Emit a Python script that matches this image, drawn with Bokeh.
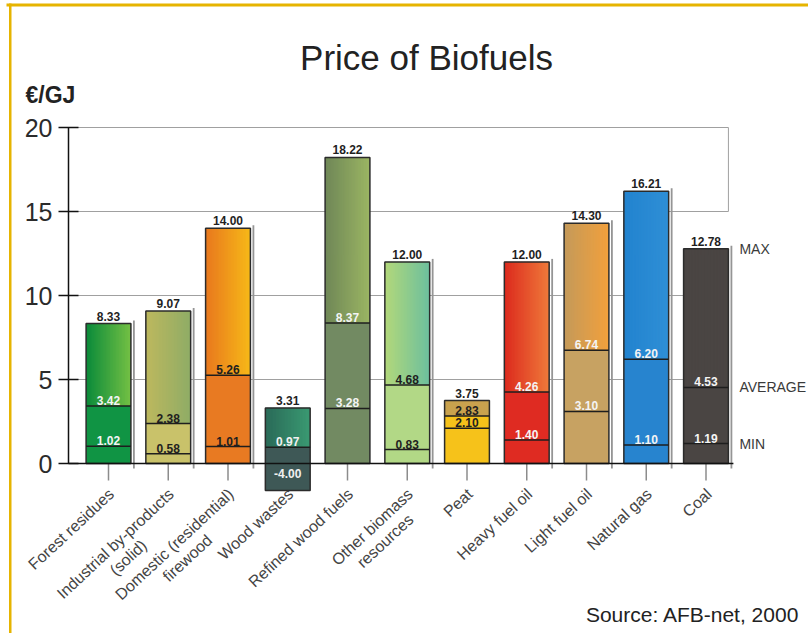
import math
from bokeh.plotting import figure
from bokeh.models import Range1d, ColumnDataSource, Label, FixedTicker, BoxAnnotation
from bokeh.embed import file_html
from bokeh.resources import INLINE
from bokeh.core.properties import value

# ---------------- data ----------------
categories = ["Forest residues", "Industrial by-products\n(solid)",
              "Domestic (residential)\nfirewood", "Wood wastes",
              "Refined wood fuels", "Other biomass\nresources", "Peat",
              "Heavy fuel oil", "Light fuel oil", "Natural gas", "Coal"]
max_vals = [8.33, 9.07, 14.00, 3.31, 18.22, 12.00, 3.75, 12.00, 14.30, 16.21, 12.78]
avg_vals = [3.42, 2.38, 5.26, 0.97, 8.37, 4.68, 2.83, 4.26, 6.74, 6.20, 4.53]
min_vals = [1.02, 0.58, 1.01, -4.00, 3.28, 0.83, 2.10, 1.40, 3.10, 1.10, 1.19]
y_ticks = [0, 5, 10, 15, 20]
row_labels = ["MAX", "AVERAGE", "MIN"]

# ---------------- styles / layout ----------------
upper_left = ["#0a8a3a", "#bdb85e", "#e8781e", "#2a6a58", "#6f8757", "#b3d87a",
              "#c9a24e", "#dc2a1e", "#c49a5a", "#2283cf", "#4a4543"]
upper_right = ["#74c044", "#8fac66", "#f7b918", "#3a9a72", "#9bb563", "#6cbf9e",
               "#c9a24e", "#ef7a3a", "#f2a03c", "#2f8fd6", "#4a4543"]
lower_col = ["#109444", "#c9c26a", "#e87a22", "#3e5856", "#728a62", "#b2d886",
             "#f6c21a", "#df2b22", "#c7a262", "#2784cf", "#4a4543"]
inner_text_col = ["#f4f4f4", "#1f1f1f", "#1f1f1f", "#f0f0f0", "#f4f4f4", "#1f1f1f",
                  "#1f1f1f", "#f4f4f4", "#f4f4f4", "#f4f4f4", "#f4f4f4"]
has_shadow = [True, True, True, False, False, True, False, True, True, True, True]

FONT = "Liberation Sans"
W_PX, H_PX = 808, 633
ZX, ZY = 108, 463          # pixel position of (first category, 0)
PX_X, PX_Y = 59.75, 16.8   # pixels per category / per unit
FLOOR = -1.6               # lowest drawn value (bars are cut off here)
AXIS_PX = 68               # pixel x of the value axis

x0, x1 = -ZX / PX_X, (W_PX - ZX) / PX_X
y0, y1 = -(H_PX - ZY) / PX_Y, ZY / PX_Y
px2x = lambda px: (px - ZX) / PX_X
px2y = lambda py: (ZY - py) / PX_Y

p = figure(width=W_PX, height=H_PX, x_range=Range1d(x0, x1), y_range=Range1d(y0, y1),
           output_backend="svg", toolbar_location=None, x_axis_location=None,
           min_border=0)
p.title.text = ""
p.title.visible = False
p.outline_line_color = None
p.background_fill_color = "white"
p.border_fill_color = "white"
p.xgrid.visible = False
p.ygrid.visible = False

n = len(categories)
xs = list(range(n))
hw = 0.375
axis_x = px2x(AXIS_PX)
right_x = n - 1 + hw

# y axis drawn at a fixed place inside the canvas
p.yaxis.fixed_location = axis_x
p.yaxis.ticker = FixedTicker(ticks=y_ticks)
p.yaxis.bounds = (y_ticks[0], y_ticks[-1])
p.yaxis.axis_line_color = "#111111"
p.yaxis.axis_line_width = 1.5
p.yaxis.major_tick_line_color = "#111111"
p.yaxis.major_tick_line_width = 1.5
p.yaxis.major_tick_in = 10
p.yaxis.major_tick_out = 10
p.yaxis.minor_tick_line_color = None
p.yaxis.major_label_standoff = 6
p.yaxis.major_label_text_font = FONT
p.yaxis.major_label_text_font_size = "25px"
p.yaxis.major_label_text_color = "#2b2b2b"

# grid lines and partial right frame
p.segment(x0=[axis_x] * (len(y_ticks) - 1), x1=[right_x] * (len(y_ticks) - 1),
          y0=y_ticks[1:], y1=y_ticks[1:], line_color="#a0a0a0", line_width=1)
p.segment(x0=[right_x], x1=[right_x], y0=[y_ticks[-2]], y1=[y_ticks[-1]],
          line_color="#a0a0a0", line_width=1)

# shadows
sh_x = [i + hw + 3 / PX_X for i in xs if has_shadow[i]]
sh_t = [max_vals[i] + 3 / PX_Y for i in xs if has_shadow[i]]
p.segment(x0=sh_x, x1=sh_x, y0=sh_t, y1=[-5 / PX_Y] * len(sh_x),
          line_color="#959595", line_width=1.8)

# x tick marks
p.segment(x0=xs, x1=xs, y0=[0] * n, y1=[-17 / PX_Y] * n, line_color="#8c8c8c", line_width=1.5)

base = [max(min(0, m), FLOOR) for m in min_vals]

# lower solid sections
p.quad(left=[i - hw for i in xs], right=[i + hw for i in xs], bottom=base, top=avg_vals,
       fill_color=lower_col, line_color=None)


def hex2rgb(h):
    h = h.lstrip("#")
    return tuple(int(h[k:k + 2], 16) for k in (0, 2, 4))


def mix(a, b, t):
    return "#%02x%02x%02x" % tuple(round(a[k] + (b[k] - a[k]) * t) for k in range(3))


# upper sections: left-to-right colour blend made of overlapping thin strips
NS = 30
step = 2 * hw / NS
ov = 1.2 / PX_X
sl, sr, sb, st, sc = [], [], [], [], []
for i in xs:
    L, R = hex2rgb(upper_left[i]), hex2rgb(upper_right[i])
    for k in range(NS):
        sl.append(i - hw + step * k)
        sr.append(min(i - hw + step * (k + 1) + ov, i + hw))
        sb.append(avg_vals[i])
        st.append(max_vals[i])
        sc.append(mix(L, R, (k + 0.5) / NS))
p.quad(left=sl, right=sr, bottom=sb, top=st, fill_color=sc, line_color=None)

# outlines and level lines
p.quad(left=[i - hw for i in xs], right=[i + hw for i in xs], bottom=base, top=max_vals,
       fill_color=None, line_color="#2b2b2b", line_width=1.5)
lv_i = [i for i in xs if min_vals[i] >= FLOOR]
p.segment(x0=[i - hw for i in xs] + [i - hw for i in lv_i],
          x1=[i + hw for i in xs] + [i + hw for i in lv_i],
          y0=avg_vals + [min_vals[i] for i in lv_i], y1=avg_vals + [min_vals[i] for i in lv_i],
          line_color="#1e1e1e", line_width=1.5)

# zero line
p.segment(x0=[axis_x], x1=[right_x + 5 / PX_X], y0=[0], y1=[0], line_color="#111111",
          line_width=1.5)

# value labels
fmt = lambda v: "%.2f" % v
p.text(x=xs, y=max_vals, text=[fmt(v) for v in max_vals], text_align="center",
       text_baseline="bottom", y_offset=-3, text_font=value(FONT),
       text_font_size=value("12px"), text_font_style="bold", text_color="#1f1f1f")
p.text(x=xs, y=avg_vals, text=[fmt(v) for v in avg_vals], text_align="center",
       text_baseline="bottom", y_offset=-1, text_font=value(FONT),
       text_font_size=value("12px"), text_font_style="bold", text_color=inner_text_col)
pos_i = [i for i in xs if min_vals[i] >= 0]
neg_i = [i for i in xs if min_vals[i] < 0]
p.text(x=pos_i, y=[min_vals[i] for i in pos_i], text=[fmt(min_vals[i]) for i in pos_i],
       text_align="center", text_baseline="bottom", y_offset=-1, text_font=value(FONT),
       text_font_size=value("12px"), text_font_style="bold",
       text_color=[inner_text_col[i] for i in pos_i])
p.text(x=neg_i, y=[0] * len(neg_i), text=[fmt(min_vals[i]) for i in neg_i],
       text_align="center", text_baseline="top", y_offset=5, text_font=value(FONT),
       text_font_size=value("12px"), text_font_style="bold",
       text_color=[inner_text_col[i] for i in neg_i])

# MAX / AVERAGE / MIN row labels next to the last bar
last = n - 1
p.text(x=[right_x + 11 / PX_X] * 3, y=[max_vals[last], avg_vals[last], min_vals[last]],
       text=row_labels, text_align="left", text_baseline="middle",
       text_font=value(FONT), text_font_size=value("14px"), text_color="#3a3a3a")

# category labels (rotated)
AW = {" ": 278, "(": 333, ")": 333, "-": 333, "a": 556, "b": 556, "c": 500, "d": 556,
      "e": 556, "f": 278, "g": 556, "h": 556, "i": 222, "l": 222, "m": 833, "n": 556,
      "o": 556, "p": 556, "r": 333, "s": 500, "t": 278, "u": 556, "v": 500, "w": 722,
      "y": 500, "C": 722, "D": 722, "F": 611, "H": 722, "I": 278, "L": 556, "N": 722,
      "O": 778, "P": 667, "R": 722, "W": 944}
FS = 16
LEAD = 19
theta = math.radians(43)
l1 = dict(x=[], y=[], t=[])
l2 = dict(x=[], y=[], t=[])
for i, c in enumerate(categories):
    lines = c.split("\n")
    ax = i + 3 / PX_X
    ay = -28 / PX_Y
    l1["x"].append(ax); l1["y"].append(ay); l1["t"].append(lines[0])
    if len(lines) > 1:
        w1 = sum(AW.get(ch, 556) for ch in lines[0]) * FS / 1000
        cx = -w1 / 2 * math.cos(theta) + LEAD * math.sin(theta)
        cy = w1 / 2 * math.sin(theta) + LEAD * math.cos(theta)
        l2["x"].append(ax + cx / PX_X); l2["y"].append(ay - cy / PX_Y); l2["t"].append(lines[1])
p.text(x="x", y="y", text="t", source=ColumnDataSource(l1), angle=theta,
       text_align="right", text_baseline="middle", text_font=value(FONT),
       text_font_size=value("%dpx" % FS), text_color="#444444")
p.text(x="x", y="y", text="t", source=ColumnDataSource(l2), angle=theta,
       text_align="center", text_baseline="middle", text_font=value(FONT),
       text_font_size=value("%dpx" % FS), text_color="#444444")

# titles and notes
p.add_layout(Label(x=px2x(426), y=px2y(57), text="Price of Biofuels",
                   text_align="center", text_baseline="alphabetic", text_font=FONT,
                   text_font_size="35px", text_color="#222222"))
p.add_layout(Label(x=px2x(25), y=px2y(94), text="€/GJ",
                   text_align="left", text_baseline="alphabetic", text_font=FONT,
                   text_font_size="23px", text_font_style="bold", text_color="#222222"))
p.add_layout(Label(x=px2x(799), y=px2y(614), text="Source: AFB-net, 2000",
                   text_align="right", text_baseline="alphabetic", text_font=FONT,
                   text_font_size="21px", text_color="#222222"))

# yellow frame edges
p.add_layout(BoxAnnotation(left=px2x(6), right=x1, top=px2y(3), bottom=px2y(6),
                           fill_color="#e6b400", fill_alpha=1, line_color=None))
p.add_layout(BoxAnnotation(left=px2x(8.5), right=px2x(11), top=px2y(3), bottom=y0,
                           fill_color="#e6b400", fill_alpha=1, line_color=None))

open("out.html", "w").write(file_html(p, INLINE))
